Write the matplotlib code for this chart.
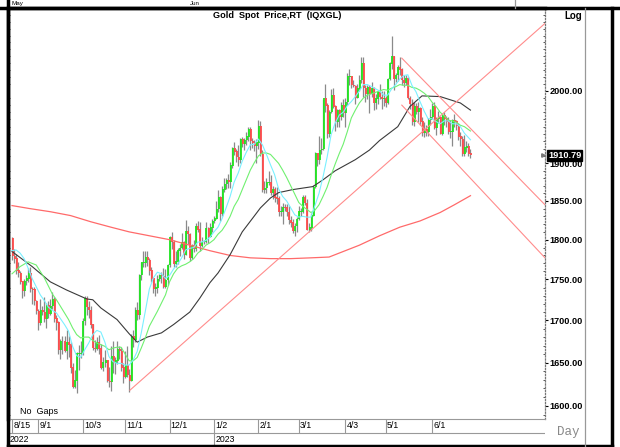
import matplotlib
matplotlib.use("Agg")
import matplotlib.pyplot as plt
from matplotlib.lines import Line2D
from matplotlib.ticker import FixedLocator, FixedFormatter, NullFormatter
import numpy as np
import pandas as pd

plt.rcParams['font.family'] = ['Liberation Sans Narrow', 'Liberation Sans', 'DejaVu Sans']

W, H = 620, 447

# daily bars, one per weekday starting 8/15/2022
start_day = "2022-08-15"
first_open = 1802.0
close = [1779, 1776, 1761, 1758, 1747, 1736, 1748, 1751, 1758, 1738,
         1737, 1723, 1711, 1697, 1712, 1710, 1702, 1718, 1708, 1717,
         1725, 1702, 1697, 1665, 1675, 1675, 1664, 1674, 1671, 1644,
         1622, 1629, 1660, 1660, 1661, 1699, 1726, 1716, 1712, 1695,
         1667, 1666, 1673, 1666, 1644, 1650, 1652, 1628, 1627, 1657,
         1649, 1652, 1665, 1663, 1644, 1633, 1647, 1635, 1629, 1681,
         1676, 1712, 1706, 1755, 1771, 1771, 1777, 1774, 1761, 1751,
         1738, 1740, 1750, 1755, 1754, 1741, 1749, 1768, 1803, 1797,
         1769, 1772, 1786, 1789, 1797, 1781, 1810, 1807, 1777, 1792,
         1788, 1817, 1813, 1792, 1797, 1797, 1814, 1804, 1815, 1824,
         1827, 1839, 1855, 1833, 1865, 1872, 1877, 1875, 1897, 1920,
         1916, 1908, 1904, 1932, 1926, 1931, 1936, 1946, 1930, 1928,
         1923, 1928, 1951, 1912, 1865, 1867, 1874, 1875, 1861, 1865,
         1854, 1853, 1836, 1836, 1842, 1841, 1835, 1825, 1822, 1811,
         1817, 1826, 1836, 1836, 1855, 1847, 1813, 1815, 1831, 1868,
         1913, 1904, 1918, 1919, 1989, 1979, 1940, 1970, 1993, 1978,
         1956, 1973, 1964, 1980, 1969, 1984, 2020, 2021, 2008, 2007,
         1990, 2003, 2015, 2040, 2004, 1995, 2005, 1995, 2004, 1983,
         1989, 1998, 1991, 1988, 1990, 1983, 2017, 2039, 2049, 2017,
         2022, 2034, 2030, 2015, 2011, 2018, 1990, 1982, 1957, 1978,
         1971, 1975, 1957, 1941, 1946, 1943, 1959, 1963, 1978, 1948,
         1961, 1963, 1940, 1965, 1961, 1957, 1943, 1943, 1958, 1957,
         1951, 1936, 1933, 1913, 1921, 1923, 1913, 1910.79]
high = [1803, 1788, 1782, 1772, 1761, 1748, 1751, 1756, 1764, 1765,
        1741, 1741, 1725, 1714, 1726, 1718, 1728, 1721, 1723, 1726,
        1735, 1728, 1707, 1699, 1678, 1681, 1681, 1688, 1681, 1674,
        1649, 1641, 1662, 1671, 1675, 1703, 1730, 1729, 1723, 1717,
        1696, 1677, 1680, 1682, 1672, 1656, 1665, 1653, 1645, 1670,
        1675, 1656, 1675, 1670, 1668, 1650, 1663, 1669, 1642, 1684,
        1688, 1716, 1722, 1757, 1772, 1786, 1786, 1786, 1777, 1765,
        1752, 1746, 1755, 1757, 1759, 1764, 1763, 1769, 1805, 1810,
        1800, 1785, 1790, 1795, 1808, 1798, 1825, 1818, 1809, 1795,
        1800, 1822, 1824, 1823, 1803, 1800, 1823, 1816, 1821, 1827,
        1830, 1850, 1865, 1856, 1870, 1881, 1881, 1886, 1902, 1922,
        1929, 1920, 1925, 1934, 1936, 1935, 1942, 1949, 1949, 1935,
        1932, 1933, 1959, 1958, 1918, 1876, 1881, 1890, 1885, 1870,
        1869, 1868, 1857, 1844, 1847, 1846, 1846, 1843, 1830, 1827,
        1822, 1829, 1843, 1841, 1858, 1858, 1852, 1822, 1834, 1871,
        1915, 1914, 1937, 1935, 1989, 2010, 1983, 1973, 2003, 2004,
        1980, 1975, 1975, 1984, 1988, 1990, 2025, 2032, 2021, 2015,
        2008, 2010, 2023, 2048, 2048, 2008, 2009, 2009, 2012, 2006,
        1995, 2000, 2010, 2000, 2000, 1993, 2019, 2041, 2079, 2050,
        2025, 2037, 2048, 2033, 2022, 2022, 2020, 1993, 1989, 1984,
        1983, 1985, 1977, 1963, 1957, 1952, 1962, 1974, 1983, 1984,
        1963, 1972, 1965, 1966, 1970, 1965, 1963, 1959, 1961, 1968,
        1959, 1955, 1942, 1937, 1938, 1930, 1928, 1919]
low = [1774, 1771, 1757, 1753, 1744, 1727, 1729, 1743, 1747, 1734,
       1720, 1719, 1708, 1688, 1694, 1706, 1698, 1691, 1703, 1706,
       1714, 1698, 1688, 1660, 1654, 1660, 1662, 1654, 1657, 1638,
       1621, 1620, 1615, 1641, 1655, 1659, 1694, 1707, 1703, 1691,
       1665, 1662, 1665, 1660, 1642, 1640, 1645, 1627, 1622, 1617,
       1638, 1637, 1648, 1654, 1640, 1626, 1632, 1633, 1616, 1628,
       1668, 1674, 1700, 1702, 1749, 1765, 1765, 1767, 1755, 1747,
       1733, 1730, 1733, 1748, 1745, 1740, 1740, 1743, 1766, 1788,
       1766, 1766, 1769, 1779, 1788, 1776, 1780, 1795, 1773, 1776,
       1784, 1785, 1810, 1785, 1791, 1795, 1796, 1796, 1803, 1810,
       1821, 1827, 1836, 1824, 1830, 1862, 1866, 1867, 1867, 1894,
       1911, 1902, 1896, 1901, 1922, 1918, 1925, 1930, 1918, 1921,
       1917, 1900, 1920, 1910, 1862, 1861, 1860, 1871, 1858, 1852,
       1849, 1846, 1830, 1830, 1820, 1837, 1830, 1820, 1816, 1808,
       1805, 1810, 1825, 1831, 1834, 1845, 1813, 1810, 1811, 1830,
       1867, 1896, 1899, 1912, 1918, 1970, 1934, 1936, 1969, 1976,
       1944, 1950, 1950, 1959, 1963, 1950, 1980, 2009, 2004, 2005,
       1982, 1990, 2000, 2011, 1992, 1985, 1989, 1969, 1991, 1973,
       1975, 1982, 1989, 1975, 1979, 1977, 1981, 2015, 2032, 2002,
       2012, 2014, 2022, 2009, 2005, 2009, 1988, 1975, 1952, 1951,
       1967, 1957, 1953, 1937, 1936, 1937, 1937, 1953, 1960, 1947,
       1938, 1955, 1940, 1938, 1952, 1950, 1940, 1935, 1924, 1949,
       1945, 1932, 1924, 1910, 1910, 1916, 1910, 1907]

month_labels = ['8/15', '9/1', '10/3', '11/1', '12/1', '1/2', '2/1', '3/1', '4/3', '5/1', '6/1']
year_labels = ['2022', '2023']
price_ticks = [1600, 1650, 1700, 1750, 1800, 1850, 1900, 2000]
last_price = 1910.79

# moving averages (bar number, price)
ma10_bar = [0, 2, 4, 6, 8, 10, 12, 14, 16, 18, 20, 22, 24, 26, 28, 30, 32, 34, 36, 38,
            40, 42, 44, 46, 48, 50, 52, 54, 56, 58, 60, 62, 64, 66, 68, 70, 72, 74, 76, 78,
            80, 82, 84, 86, 88, 90, 92, 94, 96, 98, 100, 102, 104, 106, 108, 110, 112, 114,
            116, 118, 120, 122, 124, 126, 128, 130, 132, 134, 136, 138, 140, 142, 144, 146,
            148, 150, 152, 154, 156, 158, 160, 162, 164, 166, 168, 170, 172, 174, 176, 178,
            180, 182, 184, 186, 188, 190, 192, 194, 196, 198, 200, 202, 204, 206, 208, 210,
            212, 214, 216, 218, 220, 222, 224, 226, 227]
ma10 = [1786, 1787, 1783, 1776, 1764, 1751, 1741, 1731, 1724, 1716, 1712, 1709, 1702,
        1695, 1687, 1669, 1658, 1656, 1665, 1673, 1683, 1688, 1686, 1674, 1657, 1651,
        1649, 1649, 1647, 1647, 1653, 1663, 1685, 1711, 1738, 1752, 1759, 1757, 1751,
        1755, 1763, 1769, 1777, 1787, 1789, 1790, 1797, 1797, 1799, 1803, 1810, 1816,
        1827, 1841, 1856, 1875, 1887, 1903, 1915, 1925, 1926, 1933, 1925, 1912, 1898,
        1885, 1866, 1856, 1850, 1841, 1832, 1829, 1830, 1829, 1829, 1844, 1860, 1882,
        1908, 1939, 1955, 1966, 1970, 1979, 1985, 1992, 2000, 2009, 2009, 2006, 2003,
        2000, 1994, 1994, 2003, 2009, 2017, 2022, 2023, 2008, 1999, 1985, 1972, 1961,
        1961, 1957, 1954, 1958, 1958, 1954, 1954, 1950, 1941, 1935, 1932]
ma20_bar = [0, 4, 8, 12, 16, 20, 22, 24, 26, 28, 30, 32, 34, 36, 38, 40, 42, 44, 46, 48,
            50, 52, 54, 56, 58, 60, 62, 64, 66, 68, 70, 72, 74, 76, 78, 80, 82, 84, 86, 88,
            90, 92, 94, 96, 98, 100, 102, 104, 106, 108, 110, 112, 114, 116, 118, 120, 122,
            124, 126, 128, 130, 132, 134, 136, 138, 140, 142, 144, 146, 148, 150, 152, 154,
            156, 158, 160, 162, 164, 166, 168, 170, 172, 174, 176, 178, 180, 182, 184, 186,
            188, 190, 192, 194, 196, 198, 200, 202, 204, 206, 208, 210, 212, 214, 216, 218,
            220, 222, 224, 226, 227]
ma20 = [1757, 1766, 1772, 1768, 1752, 1732, 1725, 1717, 1709, 1701, 1691, 1683, 1679,
        1680, 1680, 1676, 1673, 1671, 1669, 1665, 1667, 1668, 1668, 1660, 1652, 1652,
        1656, 1667, 1679, 1693, 1702, 1711, 1721, 1731, 1747, 1757, 1764, 1767, 1769,
        1772, 1776, 1783, 1787, 1793, 1796, 1800, 1807, 1812, 1820, 1830, 1843, 1852,
        1865, 1878, 1891, 1901, 1910, 1914, 1914, 1912, 1906, 1900, 1891, 1881, 1870,
        1859, 1848, 1843, 1839, 1835, 1838, 1845, 1856, 1868, 1884, 1899, 1913, 1926,
        1943, 1962, 1973, 1983, 1990, 1994, 1996, 1998, 2000, 2002, 2001, 2004, 2006,
        2009, 2008, 2008, 2005, 2004, 2001, 1997, 1992, 1984, 1978, 1970, 1965, 1959,
        1958, 1956, 1952, 1950, 1946, 1944]
ma50_bar = [0, 10, 19, 27, 37, 40, 44, 52, 58, 62, 67, 74, 80, 88, 93, 98, 102, 108, 114,
            121, 123, 128, 132, 139, 149, 154, 160, 170, 177, 182, 191, 197, 203, 212, 222, 227]
ma50 = [1785, 1766, 1747, 1737, 1726, 1725, 1715, 1701, 1684, 1674, 1680, 1685, 1695,
        1710, 1727, 1746, 1758, 1781, 1810, 1834, 1841, 1854, 1861, 1865, 1869, 1878,
        1890, 1905, 1918, 1931, 1950, 1978, 1993, 1992, 1983, 1973]
ma200_bar = [0, 9, 19, 29, 39, 49, 58, 68, 78, 88, 98, 108, 118, 128, 138, 148, 157, 172,
             182, 192, 202, 212, 219, 227]
ma200 = [1844, 1840, 1836, 1831, 1823, 1816, 1810, 1805, 1800, 1793, 1786, 1780, 1777,
         1776, 1776, 1777, 1778, 1793, 1805, 1816, 1824, 1835, 1845, 1857]

# drawn trend lines, (bar number, price) at both ends
trend_up = ([58.4, 263.9], [1618, 2098])
channel_top = ([193, 263.9], [2047, 1845])
channel_bottom = ([193, 263.9], [1980, 1777])

# ---------------------------------------------------------------
dates = pd.bdate_range(start_day, periods=len(close))
keys = [f"{d.month}/{d.day}" for d in dates]
idx = np.arange(len(close))
c = np.array(close, dtype=float)
o = np.concatenate([[first_open], c[:-1]])
hi = np.maximum(np.array(high, dtype=float), np.maximum(o, c))
lo = np.minimum(np.array(low, dtype=float), np.minimum(o, c))


def fx(px):
    return px / W


def fy(py):
    return 1 - py / H


fig = plt.figure(figsize=(W / 100, H / 100), dpi=100)
ax = fig.add_axes([fx(8), fy(419), fx(545) - fx(8), fy(8) - fy(419)])
ax.set_yscale('log')
ax.set_xlim(-1.98, 263.9)
ax.set_ylim(1585.3, 2121)

ax.vlines(idx, lo, hi, color='#8a8a8a', lw=0.9, zorder=2)
up = c >= o
body_lo = np.minimum(o, c)
body_hi = np.maximum(o, c) + 0.6
ax.vlines(idx[up] + 0.3, body_lo[up], body_hi[up], color='#1fe61f', lw=1.3, zorder=3)
ax.vlines(idx[~up] + 0.3, body_lo[~up], body_hi[~up], color='#ff4a4a', lw=1.3, zorder=3)

ax.plot(ma200_bar, ma200, color='#ff6a6a', lw=0.9, zorder=4)
ax.plot(ma50_bar, ma50, color='#3a3a3a', lw=0.8, zorder=4)
ax.plot(ma20_bar, ma20, color='#70f070', lw=0.8, zorder=4)
ax.plot(ma10_bar, ma10, color='#7af0ff', lw=0.8, zorder=4)

for xs, ys in (trend_up, channel_top, channel_bottom):
    ax.plot(xs, ys, color='#ff8c8c', lw=0.8, zorder=5)

# right price axis
ax.yaxis.tick_right()
ax.yaxis.set_major_locator(FixedLocator(price_ticks))
ax.yaxis.set_major_formatter(FixedFormatter([f"{p:.2f}" for p in price_ticks]))
ax.yaxis.set_minor_locator(FixedLocator(np.arange(1590, 2130, 10)))
ax.yaxis.set_minor_formatter(NullFormatter())
ax.tick_params(axis='y', which='major', length=2, width=0.8, pad=1, labelsize=6.6, colors='black')
ax.tick_params(axis='y', which='minor', left=True, right=True, length=1.5, width=0.7, direction='in', color='#555555')
for t in ax.get_yticklabels():
    t.set_fontweight('bold')
ax.set_xticks([])

for s in ('left', 'top'):
    ax.spines[s].set_linewidth(2.5)
    ax.spines[s].set_color('black')
ax.spines['right'].set_linestyle((0, (1, 1.5)))
ax.spines['right'].set_color('#777777')
ax.spines['right'].set_linewidth(0.9)
ax.spines['bottom'].set_color('#999999')
ax.spines['bottom'].set_linewidth(0.8)

# last price tag
ax.annotate(f"{last_price:.2f}", xy=(1.0, last_price), xycoords=('axes fraction', 'data'),
            xytext=(2.2, 0), textcoords='offset points', ha='left', va='center',
            fontsize=6.6, fontweight='bold', color='white', annotation_clip=False,
            bbox=dict(boxstyle='square,pad=0.1', fc='black', ec='black'))
ax.plot([263.0], [last_price], marker='>', ms=2.5, color='#777777', clip_on=False, zorder=6)

fig.text(fx(277), fy(16), 'Gold  Spot  Price,RT  (IQXGL)', ha='center', va='center',
         fontsize=6.6, fontweight='bold')
fig.text(fx(582), fy(16), 'Log', ha='right', va='center', fontsize=7, fontweight='bold')
fig.text(fx(20), fy(412), 'No  Gaps', ha='left', va='center', fontsize=6.5)
fig.text(fx(568), fy(432), 'Day', ha='center', va='center', fontsize=9, color='#888888',
         family=['Liberation Mono', 'DejaVu Sans Mono'])

# date axis
axd = fig.add_axes([fx(8), fy(446), fx(545) - fx(8), fy(419) - fy(446)])
axd.set_xlim(ax.get_xlim())
axd.set_ylim(0, 2)
axd.axis('off')
axd.axhline(1, color='#999999', lw=0.8)
for lab in month_labels:
    k = keys.index(lab)
    top = 0 if lab == '1/2' else 1
    axd.vlines(k, top, 2, color='#999999', lw=0.8)
    axd.text(k + 0.6, 1.5, lab, ha='left', va='center', fontsize=6.3)
axd.text(-1.3, 0.5, year_labels[0], ha='left', va='center', fontsize=6.3)
axd.text(keys.index('1/2') + 0.6, 0.5, year_labels[1], ha='left', va='center', fontsize=6.3)

# remains of the panel above
fig.text(fx(11), fy(3.5), 'May', ha='left', va='center', fontsize=4.5)
fig.text(fx(190), fy(3.5), 'Jun', ha='left', va='center', fontsize=4.5)

# frame
frame = [((0, 620), (8, 8), 'black', 2.5),
         ((8, 8), (0, 447), 'black', 2.5),
         ((612, 612), (8, 447), 'black', 2.5),
         ((8, 612), (446, 446), 'black', 2.5),
         ((585, 585), (8, 447), '#999999', 0.9),
         ((515, 515), (0, 8), '#999999', 0.9)]
for xs, ys, col, lw in frame:
    fig.add_artist(Line2D([fx(xs[0]), fx(xs[1])], [fy(ys[0]), fy(ys[1])],
                          transform=fig.transFigure, color=col, lw=lw))

fig.savefig('out.png', dpi=100)
